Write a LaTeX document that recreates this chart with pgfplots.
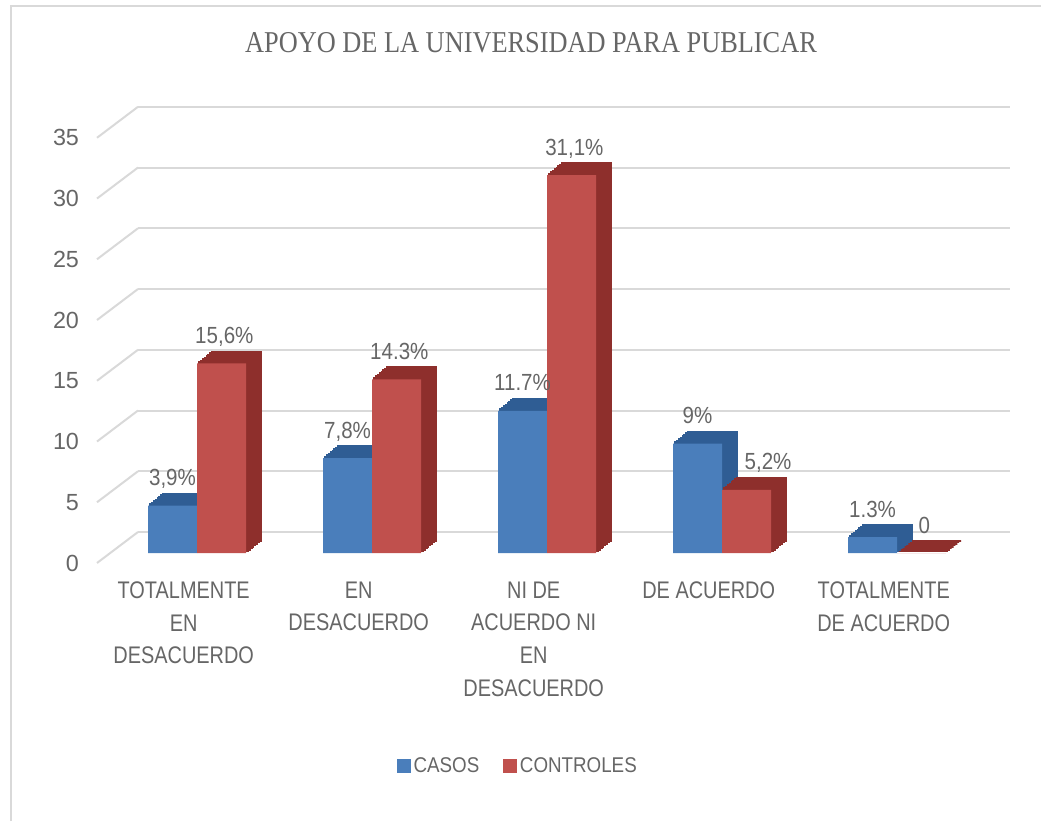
\documentclass[border=0pt]{standalone}
\usepackage{fontspec}
\usepackage{pgfplots}
\usepackage{pgfplotstable}
\pgfplotsset{compat=1.18}
\setmainfont{Liberation Sans}
\newfontfamily\lblfont[FakeStretch=0.88]{Liberation Sans}
\newfontfamily\catfont[FakeStretch=0.83]{Liberation Sans}
\newfontfamily\titlefont[FakeStretch=0.87]{Liberation Serif}
\definecolor{cblue}{HTML}{4A7EBB}
\definecolor{cbluedk}{HTML}{2F5D94}
\definecolor{cred}{HTML}{C0504D}
\definecolor{creddk}{HTML}{8E2F2C}
\definecolor{gridc}{HTML}{D9D9D9}
\definecolor{txt}{HTML}{666666}

\pgfplotstableread{
x casos controles lc lr
0 3.9 15.6 {3,9\%} {15,6\%}
1 7.8 14.3 {7,8\%} {14.3\%}
2 11.7 31.1 {11.7\%} {31,1\%}
3 9.0 5.2 {9\%} {\hspace*{28pt}5,2\%}
4 1.3 0 {1.3\%} {0}
}\data

\begin{document}
\begin{tikzpicture}[x=1pt,y=1pt]
\path[use as bounding box] (0,0) rectangle (780.75,615.75);
\draw[gridc, line width=1.2pt] (8.25,0) -- (8.25,611.25) -- (780.75,611.25);
\node[font=\titlefont\fontsize{22.7}{27}\selectfont, text=txt, anchor=base, inner sep=0pt] at (398.25,576) {APOYO DE LA UNIVERSIDAD PARA PUBLICAR};
\begin{axis}[
  at={(72.75pt,201pt)}, anchor=south west,
  scale only axis, width=654pt, height=318.9pt,
  xmin=-0.5714, xmax=4.411, ymin=0, ymax=35,
  axis line style={draw=none}, major tick length=0pt,
  ytick={0,5,...,35}, xtick={0,1,2,3,4},
  xticklabels={{TOTALMENTE\\EN\\DESACUERDO},{EN\\DESACUERDO},{NI DE\\ACUERDO NI\\EN\\DESACUERDO},{DE ACUERDO},{TOTALMENTE\\DE ACUERDO}},
  ymajorgrids,
  major grid style={gridc, line width=1.5pt, xshift=30.75pt, yshift=15.75pt},
  clip=false,
  /pgf/number format/assume math mode=true,
  yticklabel style={font=\fontsize{17.5}{20}\selectfont, text=txt, xshift=-10pt, yshift=-7.5pt},
  xticklabel style={font=\catfont\fontsize{18}{24.5}\selectfont, text=txt, align=center, xshift=-10pt, yshift=-18pt},
  every node near coord/.append style={font=\lblfont\fontsize{17.5}{20}\selectfont, text=txt, anchor=base, yshift=15pt},
  legend style={at={(0.483,-0.501)}, anchor=center, draw=none, fill=none,
    font=\lblfont\fontsize{16}{19}\selectfont, text=txt,
    /tikz/every even column/.append style={column sep=16pt}},
  legend columns=2,
  legend image code/.code={\fill[#1] (0pt,-5.25pt) rectangle (10.5pt,5.25pt);},
]
\pgfplotsinvokeforeach{0,5,...,35}{
  \draw[gridc, line width=1.5pt] ([yshift=-7.5pt]axis cs:-0.5714,#1) -- ++(30.75pt,23.25pt);
}
\pgfplotsinvokeforeach{1,...,8}{
  \addplot[ybar, bar width=36.75pt, bar shift=-18.375pt, fill=cbluedk, draw=cbluedk, line width=1.3pt,
    xshift={#1*1.40625pt}, yshift={#1*1.125pt}, forget plot] table[x=x,y=casos]{\data};
}
\pgfplotsinvokeforeach{1,...,8}{
  \addplot[ybar, bar width=36.75pt, bar shift=18.375pt, fill=creddk, draw=creddk, line width=1.3pt,
    xshift={#1*1.40625pt}, yshift={#1*1.125pt}, forget plot] table[x=x,y=controles]{\data};
}
\addplot[ybar, bar width=36.75pt, bar shift=-18.375pt, fill=cblue, draw=none,
  nodes near coords, point meta=explicit symbolic,
  every node near coord/.append style={xshift=-18.375pt}] table[x=x,y=casos,meta=lc]{\data};
\addplot[ybar, bar width=36.75pt, bar shift=18.375pt, fill=cred, draw=none,
  nodes near coords, point meta=explicit symbolic,
  every node near coord/.append style={xshift=20.5pt}] table[x=x,y=controles,meta=lr]{\data};
\legend{CASOS,CONTROLES}
\end{axis}
\end{tikzpicture}
\end{document}
